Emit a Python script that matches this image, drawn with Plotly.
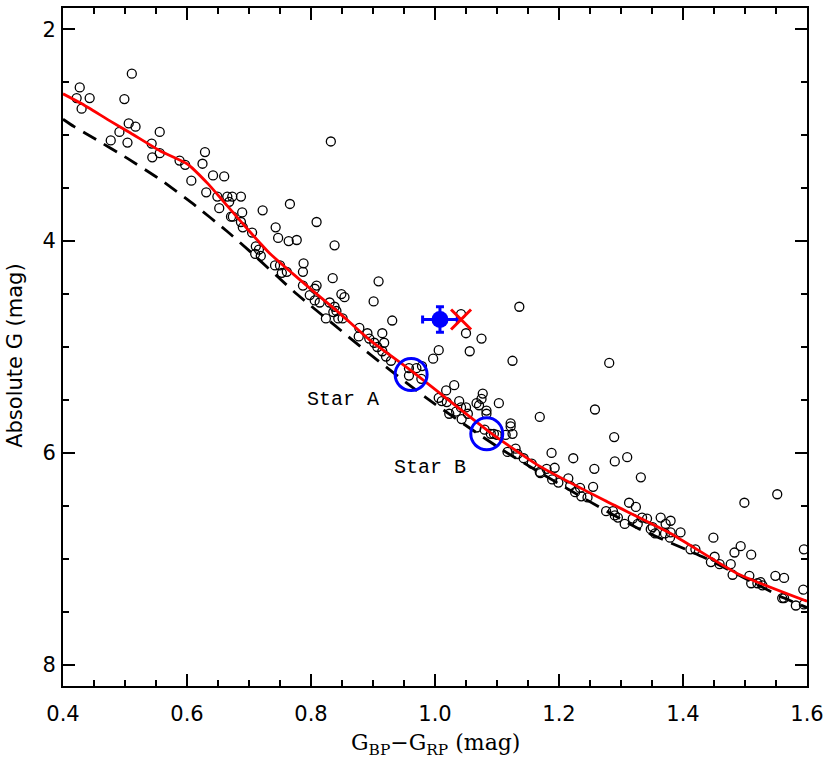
import plotly.graph_objects as go

# Field stars (open circles): colour BP-RP and absolute G
star_color = [
    0.422, 0.427, 0.430, 0.443, 0.511, 0.499, 0.506, 0.517, 0.491, 0.477,
    0.504, 0.556, 0.543, 0.556, 0.544, 0.588, 0.597, 0.629, 0.625, 0.607,
    0.642, 0.660, 0.631, 0.649, 0.665, 0.673, 0.687, 0.668, 0.652, 0.689,
    0.671, 0.674, 0.687, 0.690, 0.705, 0.722, 0.711, 0.716, 0.710, 0.719,
    0.743, 0.747, 0.764, 0.777, 0.766, 0.809, 0.832, 0.838, 0.742, 0.750,
    0.753, 0.761, 0.788, 0.787, 0.835, 0.909, 0.787, 0.809, 0.806, 0.798,
    0.806, 0.814, 0.849, 0.854, 0.830, 0.901, 0.838, 0.841, 0.836, 0.824,
    0.844, 0.851, 0.931, 0.878, 0.891, 0.915, 0.877, 0.894, 0.902, 0.918,
    0.907, 0.915, 0.921, 0.929, 1.042, 1.050, 1.075, 1.056, 1.006, 0.997,
    1.125, 1.136, 0.958, 0.970, 0.979, 0.958, 0.978, 1.018, 1.031, 1.006,
    1.011, 1.019, 1.039, 1.050, 1.042, 1.067, 1.075, 1.077, 1.071, 1.103,
    1.023, 1.034, 1.043, 1.053, 1.083, 1.083, 1.169, 1.122, 1.122, 1.125,
    1.067, 1.080, 1.090, 1.095, 1.100, 1.114, 1.117, 1.130, 1.133, 1.143,
    1.188, 1.156, 1.170, 1.180, 1.193, 1.258, 1.289, 1.290, 1.310, 1.332,
    1.223, 1.189, 1.199, 1.215, 1.218, 1.226, 1.234, 1.236, 1.246, 1.255,
    1.257, 1.276, 1.287, 1.290, 1.295, 1.306, 1.313, 1.324, 1.319, 1.334,
    1.342, 1.327, 1.351, 1.348, 1.355, 1.364, 1.372, 1.380, 1.371, 1.379,
    1.380, 1.396, 1.412, 1.420, 1.449, 1.451, 1.459, 1.445, 1.477, 1.480,
    1.483, 1.493, 1.510, 1.499, 1.507, 1.510, 1.520, 1.525, 1.528, 1.549,
    1.563, 1.552, 1.560, 1.563, 1.582, 1.595, 1.594, 1.595, 1.169, 1.281,
]
star_mag = [
    2.65, 2.55, 2.75, 2.65, 2.42, 2.66, 2.89, 2.92, 2.97, 3.05,
    3.07, 2.97, 3.08, 3.17, 3.21, 3.24, 3.28, 3.16, 3.27, 3.43,
    3.38, 3.39, 3.54, 3.58, 3.58, 3.58, 3.58, 3.63, 3.69, 3.73,
    3.77, 3.77, 3.82, 3.87, 3.92, 3.71, 4.05, 4.08, 4.12, 4.14,
    3.87, 3.97, 4.00, 3.99, 3.65, 3.82, 3.06, 4.04, 4.23, 4.23,
    4.30, 4.29, 4.21, 4.29, 4.35, 4.38, 4.42, 4.42, 4.45, 4.51,
    4.56, 4.58, 4.50, 4.53, 4.58, 4.57, 4.62, 4.66, 4.67, 4.73,
    4.73, 4.73, 4.75, 4.82, 4.87, 4.87, 4.90, 4.92, 4.96, 4.96,
    5.00, 5.04, 5.09, 5.13, 4.69, 4.87, 4.92, 5.04, 5.03, 5.11,
    5.13, 4.62, 5.20, 5.20, 5.18, 5.27, 5.30, 5.41, 5.36, 5.48,
    5.51, 5.52, 5.51, 5.57, 5.57, 5.53, 5.49, 5.44, 5.55, 5.53,
    5.63, 5.61, 5.68, 5.63, 5.60, 5.63, 5.66, 5.72, 5.75, 5.82,
    5.76, 5.78, 5.82, 5.82, 5.83, 5.83, 5.99, 5.96, 6.01, 6.05,
    6.00, 6.10, 6.19, 6.15, 6.14, 5.59, 5.85, 6.08, 6.04, 6.23,
    6.05, 6.25, 6.28, 6.24, 6.31, 6.37, 6.33, 6.41, 6.42, 6.32,
    6.15, 6.55, 6.55, 6.59, 6.61, 6.67, 6.47, 6.51, 6.62, 6.61,
    6.62, 6.67, 6.70, 6.72, 6.76, 6.61, 6.67, 6.64, 6.76, 6.80,
    6.75, 6.75, 6.91, 6.91, 6.80, 6.98, 7.05, 7.03, 7.05, 7.15,
    6.94, 6.88, 6.96, 6.47, 7.16, 7.23, 7.23, 7.22, 7.25, 7.16,
    7.18, 6.39, 7.37, 7.37, 7.44, 6.91, 7.29, 7.43, 6.18, 5.15,
]

# Red solid sequence
red_color = [0.400, 0.429, 0.477, 0.509, 0.557, 0.600, 0.634, 0.658, 0.686, 0.718,
             0.734, 0.771, 0.803, 0.846, 0.894, 0.963, 1.092, 1.167, 1.274, 1.380,
             1.488, 1.600]
red_mag = [2.61, 2.70, 2.87, 2.98, 3.15, 3.27, 3.46, 3.62, 3.81, 4.02,
           4.12, 4.31, 4.47, 4.68, 4.93, 5.23, 5.82, 6.12, 6.45, 6.76,
           7.14, 7.40]

# Black dashed sequence
dash_color = [0.400, 0.418, 0.450, 0.504, 0.557, 0.610, 0.665, 0.702, 0.777,
              0.835, 0.889, 0.986, 1.103, 1.220, 1.327, 1.435, 1.563, 1.600]
dash_mag = [2.85, 2.92, 3.03, 3.22, 3.42, 3.65, 3.91, 4.10, 4.50,
            4.78, 5.04, 5.48, 5.95, 6.36, 6.71, 6.99, 7.37, 7.46]

# Blue point with error bars
blue_color = [1.008]
blue_mag = [4.74]
blue_err_color = [0.028]
blue_err_mag = [0.12]

# Red cross
cross_color = [1.042]
cross_mag = [4.74]

# Star A and Star B (blue rings)
ring_names = ["Star A", "Star B"]
ring_color = [0.9615, 1.0835]
ring_mag = [5.26, 5.82]
label_color = [0.852, 0.992]
label_mag = [5.50, 6.14]

x_ticks = [0.4, 0.6, 0.8, 1.0, 1.2, 1.4, 1.6]
y_ticks = [2, 4, 6, 8]

fig = go.Figure()

fig.add_trace(go.Scatter(
    x=star_color, y=star_mag, mode="markers",
    marker=dict(symbol="circle-open", size=9, color="black", line=dict(width=1.3, color="black")),
    showlegend=False, hoverinfo="skip"))

fig.add_trace(go.Scatter(
    x=dash_color, y=dash_mag, mode="lines",
    line=dict(color="black", width=2.8, dash="15px,9px", shape="spline", smoothing=0.6),
    showlegend=False))

fig.add_trace(go.Scatter(
    x=red_color, y=red_mag, mode="lines",
    line=dict(color="#ff0000", width=2.8, shape="spline", smoothing=0.5),
    showlegend=False))

fig.add_trace(go.Scatter(
    x=ring_color, y=ring_mag, mode="markers",
    marker=dict(symbol="circle-open", size=32, color="#0000ff", line=dict(width=3, color="#0000ff")),
    showlegend=False))

fig.add_trace(go.Scatter(
    x=blue_color, y=blue_mag, mode="markers",
    marker=dict(symbol="circle", size=17, color="#0000ff"),
    error_x=dict(type="data", array=blue_err_color, color="#0000ff", thickness=3, width=4),
    error_y=dict(type="data", array=blue_err_mag, color="#0000ff", thickness=3, width=4),
    showlegend=False))

fig.add_trace(go.Scatter(
    x=cross_color, y=cross_mag, mode="markers",
    marker=dict(symbol="x-thin-open", size=20, color="#ff0000", line=dict(width=3, color="#ff0000")),
    showlegend=False))

for name, cx, cy in zip(ring_names, label_color, label_mag):
    fig.add_annotation(x=cx, y=cy, text=name, showarrow=False,
                       font=dict(family="Liberation Mono", size=20, color="black"),
                       xanchor="center", yanchor="middle")

fig.add_annotation(xref="paper", yref="paper", x=-0.0645, y=0.487,
                   text="Absolute G (mag)", textangle=-90, showarrow=False,
                   font=dict(family="DejaVu Sans", size=21, color="black"),
                   xanchor="center", yanchor="middle")
fig.add_annotation(xref="paper", yref="paper", x=0.5, y=-0.0865,
                   text="G<sub>BP</sub>\u2212G<sub>RP</sub> (mag)", showarrow=False,
                   font=dict(family="DejaVu Serif", size=22, color="black"),
                   xanchor="center", yanchor="middle")

axis_common = dict(
    showgrid=False, zeroline=False, showline=True, linecolor="black", linewidth=2,
    mirror="allticks", ticks="inside", ticklen=12, tickwidth=1.5, tickcolor="black",
    tickfont=dict(family="DejaVu Sans", size=21, color="black"),
)

fig.update_xaxes(range=[0.4, 1.6], tickvals=x_ticks,
                 ticktext=[f"{v:.1f}" for v in x_ticks],
                 minor=dict(dtick=0.05, tick0=0.4, ticks="inside", ticklen=6, tickwidth=1.5, tickcolor="black"),
                 ticklabelstandoff=8, **axis_common)
fig.update_yaxes(range=[8.2, 1.8], tickvals=y_ticks,
                 ticktext=[str(v) for v in y_ticks],
                 minor=dict(dtick=0.5, tick0=2, ticks="inside", ticklen=6, tickwidth=1.5, tickcolor="black"),
                 ticklabelstandoff=1, **axis_common)

fig.update_layout(
    width=830, height=759,
    margin=dict(l=63, r=19, t=6, b=73),
    plot_bgcolor="white", paper_bgcolor="white",
)

fig.write_html("out.html", config={"displayModeBar": False},
               post_script="document.body.style.margin='0px';document.body.style.overflow='hidden';")
